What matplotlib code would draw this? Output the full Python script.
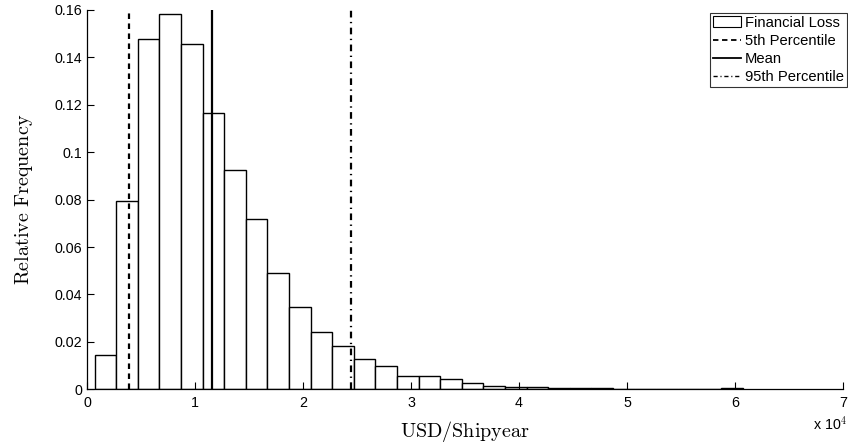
import matplotlib
matplotlib.use("Agg")
import matplotlib.pyplot as plt
import matplotlib.ticker as ticker
from matplotlib.patches import Rectangle
from matplotlib.lines import Line2D

plt.rcParams["font.family"] = ["Liberation Sans", "DejaVu Sans"]
plt.rcParams["mathtext.fontset"] = "cm"

# histogram of financial loss, x in units of 10^4 USD/shipyear
bin_centers = [0.17, 0.37, 0.57, 0.77, 0.97, 1.17, 1.37, 1.57, 1.77, 1.97,
               2.17, 2.37, 2.57, 2.77, 2.97, 3.17, 3.37, 3.57, 3.77, 3.97,
               4.17, 4.37, 4.57, 4.77, 4.97, 5.17, 5.37, 5.57, 5.77, 5.97]
rel_freq = [0.0145, 0.0795, 0.1476, 0.1580, 0.1456, 0.1163, 0.0924, 0.0720,
            0.0490, 0.0346, 0.0240, 0.0182, 0.0127, 0.0100, 0.0058, 0.0057,
            0.0043, 0.0026, 0.0016, 0.0011, 0.0012, 0.0005, 0.0004, 0.0006,
            0.0002, 0.0003, 0.0001, 0.0001, 0.0002, 0.0005]
bin_width = 0.2

p5 = 0.386
mean = 1.157
p95 = 2.444

fig = plt.figure(figsize=(8.48, 4.43), dpi=100)
ax = fig.add_axes([0.1026, 0.121, 0.8915, 0.857])

ax.bar(bin_centers, rel_freq, width=bin_width, color="white",
       edgecolor="black", linewidth=1.0, zorder=1)
ax.axvline(p5, color="black", linestyle=(0, (2.5, 2)), linewidth=1.6, zorder=2)
ax.axvline(mean, color="black", linestyle="-", linewidth=1.6, zorder=2)
ax.axvline(p95, color="black", linestyle=(0, (3, 2, 0.6, 2)), linewidth=1.6, zorder=2)

ax.set_xlim(0, 7)
ax.set_ylim(0, 0.16)
ax.xaxis.set_major_locator(ticker.MultipleLocator(1))
ax.yaxis.set_major_locator(ticker.MultipleLocator(0.02))
ax.yaxis.set_major_formatter(ticker.FormatStrFormatter("%g"))
ax.xaxis.set_major_formatter(ticker.FormatStrFormatter("%g"))
ax.tick_params(direction="in", length=5, width=0.8, labelsize=10.3,
               top=False, right=False, zorder=5)
ax.tick_params(axis="x", pad=5)
ax.spines["top"].set_visible(False)
ax.spines["right"].set_visible(False)
for s in ("left", "bottom"):
    ax.spines[s].set_linewidth(0.9)
    ax.spines[s].set_zorder(5)

ax.set_xlabel(r"$\mathrm{USD/Shipyear}$", fontsize=14.5, labelpad=6)
ax.set_ylabel(r"$\mathrm{Relative\ Frequency}$", fontsize=14.5, labelpad=14)
fig.text(0.9985, 0.043, r"x 10$^4$", ha="right", va="center", fontsize=10.3)

handles = [
    Rectangle((0, 0), 1, 1, facecolor="white", edgecolor="black", linewidth=0.8),
    Line2D([], [], color="black", linestyle=(0, (3, 2)), linewidth=1.3),
    Line2D([], [], color="black", linestyle="-", linewidth=1.3),
    Line2D([], [], color="black", linestyle=(0, (3, 2, 0.8, 2)), linewidth=1.0),
]
labels = ["Financial Loss", "5th Percentile", "Mean", "95th Percentile"]
leg = ax.legend(handles, labels, loc="upper right", bbox_to_anchor=(1.0053, 0.9916),
                fontsize=10.6, frameon=True, fancybox=False, borderaxespad=0,
                handlelength=1.9, handleheight=0.8, handletextpad=0.3,
                labelspacing=0.28, borderpad=0.2)
leg.get_frame().set_edgecolor("black")
leg.get_frame().set_linewidth(0.8)

fig.savefig("out.png", dpi=100)
